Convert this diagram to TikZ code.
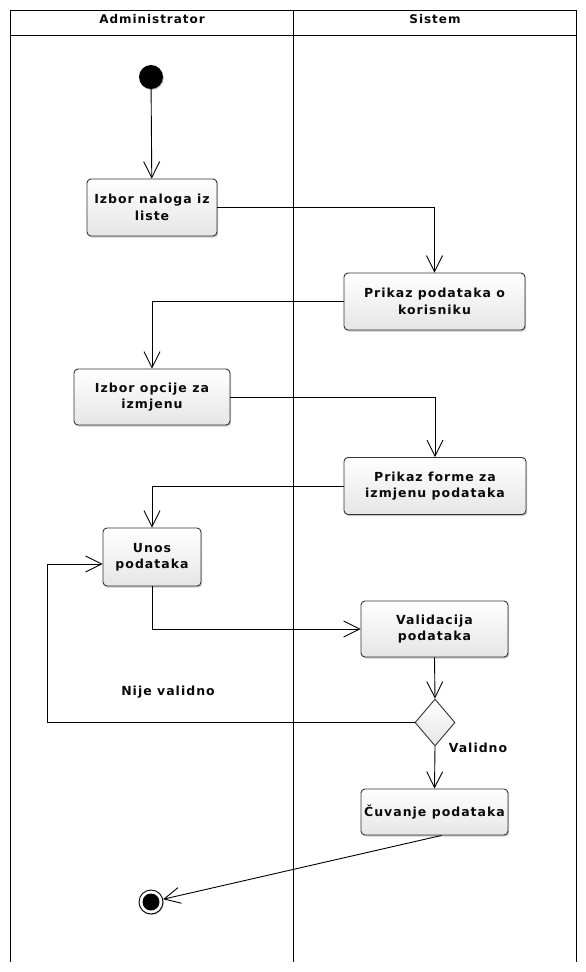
\documentclass[tikz,border=0pt]{standalone}
\usepackage{fontspec}
\setmainfont{DejaVu Sans}[LetterSpace=8]
\usetikzlibrary{arrows.meta,shapes.geometric,shadows,calc}
\definecolor{txt}{HTML}{0A0A0A}
\definecolor{bord}{HTML}{333333}
\tikzset{
  lane/.style={line width=1pt,black},
  act/.style={rectangle,rounded corners=4pt,draw=bord,line width=0.9pt,
    top color=white,bottom color=black!10,align=center,
    font=\fontsize{12.5}{16.5}\selectfont\bfseries,text=txt,inner sep=0pt,
    drop shadow={shadow xshift=1.2pt,shadow yshift=-1.5pt,fill=black,opacity=0.22}},
  dec/.style={diamond,draw=bord,line width=0.9pt,top color=white,bottom color=black!10,
    minimum width=40pt,minimum height=47pt,inner sep=0pt,aspect=0.85},
  lbl/.style={font=\fontsize{12.5}{14}\selectfont\bfseries,text=txt},
  hdr/.style={font=\fontsize{12}{14}\selectfont\bfseries,text=txt},
  flow/.style={line width=0.9pt,-{Straight Barb[length=16pt,width=16pt,line width=0.9pt]}},
}
\begin{document}
\begin{tikzpicture}[x=1pt,y=-1pt]
\useasboundingbox[fill=white] (0,0) rectangle (586,972);
% swimlanes
\draw[lane] (10,962) -- (10,10) -- (576,10) -- (576,962);
\draw[lane] (293,10) -- (293,962);
\draw[lane] (10,35) -- (576,35);
\node[hdr] (h1) at (152,19) {Administrator};
\node[hdr] (h2) at (435,19) {Sistem};
% start / end
\node[circle,fill=black,minimum size=24pt,inner sep=0pt,
  drop shadow={shadow xshift=0.8pt,shadow yshift=-1pt,fill=black,opacity=0.25}] (start) at (151,77) {};
\node[circle,draw=black,line width=0.9pt,fill=white,minimum size=24pt,inner sep=0pt,
  drop shadow={shadow xshift=0.8pt,shadow yshift=-1pt,fill=black,opacity=0.25}] (fin) at (151,902) {};
\node[circle,fill=black,minimum size=17pt,inner sep=0pt] (finin) at (fin) {};
% activities
\node[act,minimum width=130pt,minimum height=57pt] (n1) at (152,207.5) {Izbor naloga iz\\liste};
\node[act,minimum width=181pt,minimum height=57pt] (n2) at (434.5,301.5) {Prikaz podataka o\\korisniku};
\node[act,minimum width=156pt,minimum height=56pt] (n3) at (152,397) {Izbor opcije za\\izmjenu};
\node[act,minimum width=182pt,minimum height=57pt] (n4) at (435,486) {Prikaz forme za\\izmjenu podataka};
\node[act,minimum width=98pt,minimum height=58pt] (n5) at (152,557) {Unos\\podataka};
\node[act,minimum width=147pt,minimum height=56pt] (n6) at (434.5,629) {Validacija\\podataka};
\node[dec] (d) at (435,722.5) {};
\node[act,minimum width=147pt,minimum height=46pt] (n7) at (434.5,812) {Čuvanje podataka};
% labels
\node[lbl] (l1) at (168,692) {Nije validno};
\node[lbl] (l2) at (478,748) {Validno};
% flows
\coordinate (lx) at (47,0);
\draw[flow] (start) -- (n1);
\draw[flow] (n1.east) -| (n2.north);
\draw[flow] (n2.west) -| (n3.north);
\draw[flow] (n3.east) -| (n4.north);
\draw[flow] (n4.west) -| (n5.north);
\draw[flow] (n5.south) |- (n6.west);
\draw[flow] (n6.south) -- (d.north);
\draw[flow] (d.west) -- (d.west -| lx) |- ($(n5.west)+(0,7)$);
\draw[flow] (d.south) -- (n7.north);
\draw[flow] ($(n7.south)+(7,0)$) -- (fin);
\end{tikzpicture}
\end{document}
